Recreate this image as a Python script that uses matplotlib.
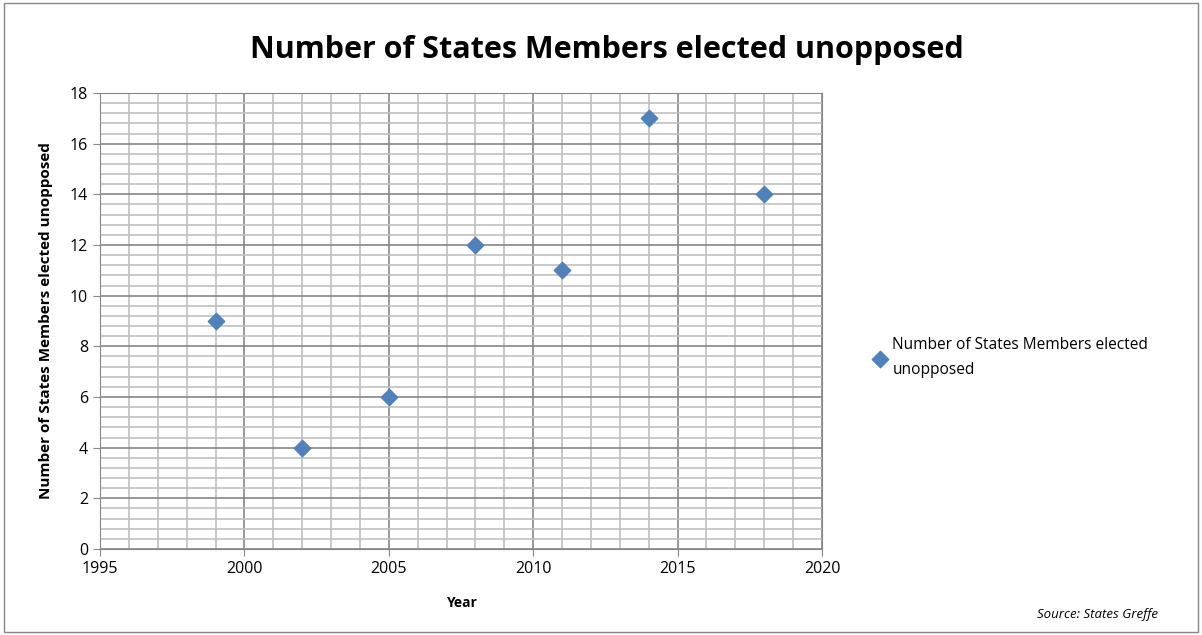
import matplotlib.pyplot as plt
from matplotlib.ticker import MultipleLocator
from matplotlib.patches import Rectangle

years = [1999, 2002, 2005, 2008, 2011, 2014, 2018]
unopposed = [9, 4, 6, 12, 11, 17, 14]
series_name = 'Number of States Members elected unopposed'

plt.rcParams['font.family'] = ['Open Sans', 'DejaVu Sans']

fig = plt.figure(figsize=(12.02, 6.35), dpi=100)
ax = fig.add_axes([100 / 1202, 86 / 635, 722 / 1202, 456 / 635])

ax.scatter(years, unopposed, marker='D', s=70, color='#4F81BD', zorder=3,
           label='Number of States Members elected\nunopposed')

ax.set_xlim(1995, 2020)
ax.set_ylim(0, 18)
ax.xaxis.set_major_locator(MultipleLocator(5))
ax.xaxis.set_minor_locator(MultipleLocator(1))
ax.yaxis.set_major_locator(MultipleLocator(2))
ax.yaxis.set_minor_locator(MultipleLocator(0.4))
ax.grid(which='major', color='#868686', lw=1.2)
ax.grid(which='minor', color='#c0c0c0', lw=1.2)
ax.set_axisbelow(True)
for s in ax.spines.values():
    s.set_color('#868686')
ax.tick_params(which='major', length=5, color='#868686', labelsize=11.5, direction='out')
ax.tick_params(which='minor', length=0)

ax.set_xlabel('Year', fontsize=10, fontweight='bold', labelpad=14)
ax.set_ylabel(series_name, fontsize=11, fontweight='bold', labelpad=12)
fig.text(0.505, 0.921, series_name, ha='center', va='center', fontsize=22, fontweight='bold')

leg = ax.legend(loc='center left', bbox_to_anchor=(1.05, 0.42), frameon=False, fontsize=11.2,
                handletextpad=-0.2, borderaxespad=0)
for t in leg.get_texts():
    t.set_linespacing(1.7)

fig.text(0.963, 0.027, 'Source: States Greffe', ha='right', fontsize=9.5, style='italic')
fig.add_artist(Rectangle((0.003, 0.004), 0.994, 0.992, transform=fig.transFigure,
                         fill=False, edgecolor='#868686', lw=1))

fig.savefig('out.png', dpi=100)
